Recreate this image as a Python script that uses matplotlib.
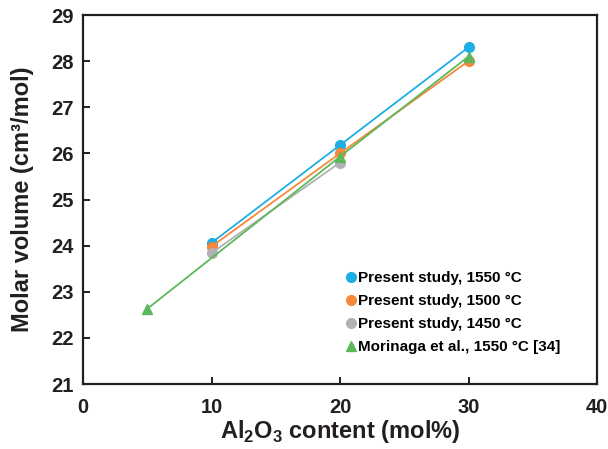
import matplotlib
matplotlib.use("Agg")
import matplotlib.pyplot as plt

plt.rcParams['font.family'] = ['Liberation Sans', 'DejaVu Sans']

x_1550 = [10, 20, 30]
y_1550 = [24.06, 26.18, 28.30]
x_1500 = [10, 20, 30]
y_1500 = [23.98, 26.00, 28.00]
x_1450 = [10, 20]
y_1450 = [23.84, 25.80]
x_mor = [5, 20, 30]
y_mor = [22.63, 25.93, 28.10]

labels = ["Present study, 1550 °C", "Present study, 1500 °C",
          "Present study, 1450 °C", "Morinaga et al., 1550 °C [34]"]
colors = ["#1EADE4", "#F5883A", "#B2B2B4", "#5DB85C"]

fig = plt.figure(figsize=(6.08, 4.49), dpi=100)
ax = fig.add_axes([83/608, 1-384/449, (597-83)/608, (384-15)/449])

ax.plot(x_1550, y_1550, '-o', color=colors[0], lw=1.3, ms=7, label=labels[0])
ax.plot(x_1500, y_1500, '-o', color=colors[1], lw=1.3, ms=7, label=labels[1])
ax.plot(x_1450, y_1450, '-o', color=colors[2], lw=1.3, ms=7, label=labels[2])
ax.plot(x_mor, y_mor, '-^', color=colors[3], lw=1.3, ms=7, label=labels[3])

ax.set_xlim(0, 40)
ax.set_ylim(21, 29)
ax.set_xticks([0, 10, 20, 30, 40])
ax.set_yticks(range(21, 30))
for s in ax.spines.values():
    s.set_linewidth(1.6)
    s.set_color('#231F20')
ax.tick_params(direction='in', length=5, width=1.4, labelsize=14.5, colors='#231F20')
ax.tick_params(axis='x', pad=10)
ax.tick_params(axis='y', pad=7)
for t in ax.get_xticklabels() + ax.get_yticklabels():
    t.set_fontweight('bold')

ax.set_xlabel("Al$_\\mathregular{2}$O$_\\mathregular{3}$ content (mol%)", fontsize=17, fontweight='bold', labelpad=1, color='#231F20')
ax.set_ylabel("Molar volume (cm³/mol)", fontsize=17, fontweight='bold', labelpad=12, color='#231F20')

leg = ax.legend(loc='lower right', bbox_to_anchor=(0.955, 0.043), frameon=False,
                prop={'weight': 'bold', 'size': 11}, handlelength=0.6,
                handletextpad=0.15, labelspacing=0.6, markerscale=1.0)
for h in leg.legend_handles:
    h.set_linestyle('')
fig.savefig("out.png", dpi=100)
